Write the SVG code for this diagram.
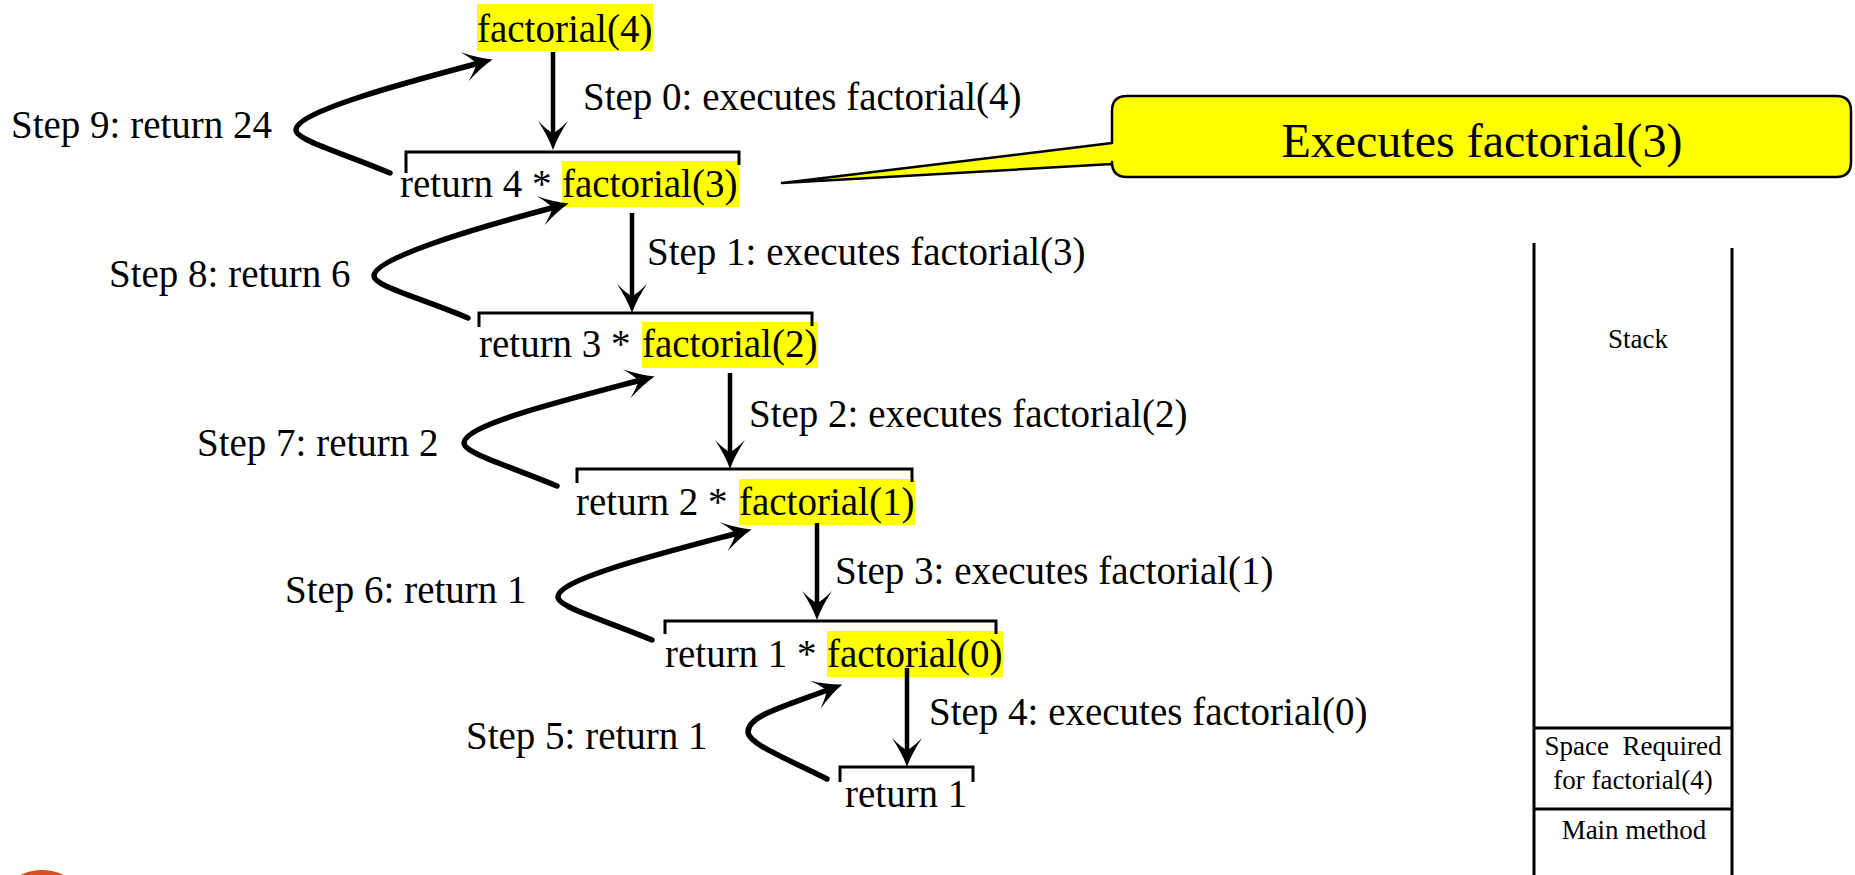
<svg xmlns="http://www.w3.org/2000/svg" width="1855" height="875" viewBox="0 0 1855 875">
  <style>
    text { font-family: "Liberation Serif", "Times New Roman", serif; fill: #000; }
    .t { font-size: 39px; }
    .stk { font-size: 27px; text-anchor: middle; }
    .hl { fill: #FFFF00; }
    .brk { fill: none; stroke: #000; stroke-width: 3; }
    .call { fill: none; stroke: #000; stroke-width: 4.5; marker-end: url(#head); }
    .ret { fill: none; stroke: #000; stroke-width: 5.5; stroke-linecap: round; marker-end: url(#head); }
    .wall { fill: none; stroke: #000; stroke-width: 3; }
  </style>
  <defs>
    <marker id="head" markerUnits="userSpaceOnUse" viewBox="-40 -20 50 40" refX="-10" refY="0" markerWidth="50" markerHeight="40" orient="auto">
      <path d="M0,0 Q-14,-5 -29,-15 Q-19,-5 -17,0 Q-19,5 -29,15 Q-14,5 0,0 Z" fill="#000"/>
    </marker>
  </defs>

  <rect width="1855" height="875" fill="#fff"/>

  <!-- call frames -->
  <g id="frame-4">
    <rect class="hl" x="477" y="4" width="176" height="47"/>
    <text class="t" x="477" y="42">factorial(4)</text>
  </g>
  <g id="frame-3">
    <rect class="hl" x="562" y="161" width="177" height="46"/>
    <path class="brk" d="M406,173 V152 H739 V165"/>
    <text class="t" x="400" y="197">return 4 * <tspan x="562">factorial(3)</tspan></text>
  </g>
  <g id="frame-2">
    <rect class="hl" x="642" y="322" width="176" height="46"/>
    <path class="brk" d="M479,327 V313 H812 V326"/>
    <text class="t" x="479" y="357">return 3 * <tspan x="642">factorial(2)</tspan></text>
  </g>
  <g id="frame-1">
    <rect class="hl" x="739" y="479" width="176" height="46"/>
    <path class="brk" d="M577,483 V469 H912 V482"/>
    <text class="t" x="576" y="515">return 2 * <tspan x="739">factorial(1)</tspan></text>
  </g>
  <g id="frame-0">
    <rect class="hl" x="827" y="631" width="176" height="46"/>
    <path class="brk" d="M665,634 V621 H996 V634"/>
    <text class="t" x="665" y="667">return 1 * <tspan x="827">factorial(0)</tspan></text>
  </g>
  <g id="frame-base">
    <path class="brk" d="M840,782 V767 H973 V782"/>
    <text class="t" x="845" y="807">return 1</text>
  </g>

  <!-- calls going down, returns coming back up -->
  <g id="connectors">
    <path class="call" d="M553,52 V140"/>
    <path class="call" d="M632,213 V303"/>
    <path class="call" d="M730,373 V459"/>
    <path class="call" d="M817,523 V610"/>
    <path class="call" d="M907,668 V757"/>

    <path class="ret" d="M390,173 C340,152 296,140 296,130 C296,112 400,84 483,62"/>
    <path class="ret" d="M468,318 C418,297 374,286 374,276 C374,258 476,228 559,206"/>
    <path class="ret" d="M557,486 C507,465 464,453 464,443 C464,425 562,401 645,379"/>
    <path class="ret" d="M652,640 C602,619 558,607 558,597 C558,579 659,554 742,532"/>
    <path class="ret" d="M827,779 C790,760 748,744 748,732 C748,716 780,708 833,688"/>
  </g>

  <!-- step labels -->
  <g id="labels">
    <text class="t" x="583" y="110">Step 0: executes factorial(4)</text>
    <text class="t" x="647" y="265">Step 1: executes factorial(3)</text>
    <text class="t" x="749" y="427">Step 2: executes factorial(2)</text>
    <text class="t" x="835" y="584">Step 3: executes factorial(1)</text>
    <text class="t" x="929" y="725">Step 4: executes factorial(0)</text>
    <text class="t" x="466" y="749">Step 5: return 1</text>
    <text class="t" x="285" y="603">Step 6: return 1</text>
    <text class="t" x="197" y="456">Step 7: return 2</text>
    <text class="t" x="109" y="287">Step 8: return 6</text>
    <text class="t" x="11" y="138">Step 9: return 24</text>
  </g>

  <!-- callout -->
  <g id="callout">
    <path d="M1127,96 H1836 Q1851,96 1851,111 V162 Q1851,177 1836,177 H1127 Q1112,177 1112,162 V164 L782,183 L1112,143 V111 Q1112,96 1127,96 Z" fill="#FFFF00" stroke="#000" stroke-width="2.5" stroke-linejoin="round"/>
    <text x="1482" y="157" font-size="48" text-anchor="middle">Executes factorial(3)</text>
  </g>

  <!-- call stack -->
  <g id="stack">
    <path class="wall" d="M1534,243 V875 M1732,248 V875 M1534,728 H1732 M1534,809 H1732"/>
    <text class="stk" x="1638" y="348">Stack</text>
    <text class="stk" x="1633" y="755" xml:space="preserve">Space  Required</text>
    <text class="stk" x="1633" y="789">for factorial(4)</text>
    <text class="stk" x="1634" y="839">Main method</text>
  </g>

  <circle cx="42" cy="919" r="49" fill="#D4501C"/>
</svg>
